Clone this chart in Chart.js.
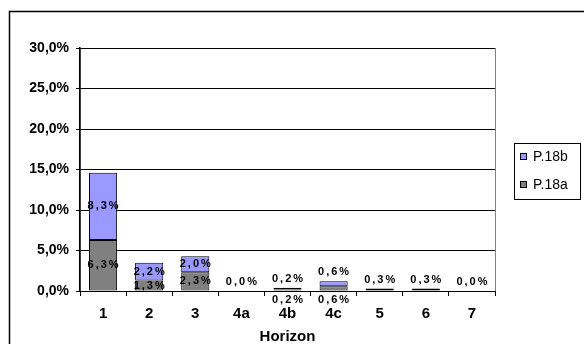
<!DOCTYPE html>
<html>
<head>
<meta charset="utf-8">
<script src="https://cdn.jsdelivr.net/npm/chart.js@4"></script>
<style>
    html, body { margin: 0; padding: 0; background: #fff; overflow: hidden; }
    #wrap { position: relative; width: 584px; height: 344px; }
</style>
</head>
<body>
<div id="wrap"><canvas id="chart" width="584" height="344"></canvas></div>
<script>
// horizons on the x axis
const horizons = ["1", "2", "3", "4a", "4b", "4c", "5", "6", "7"];
// share in percent, null where Excel shows nothing
const p18a = [6.3, 1.3, 2.3, null, 0.2, 0.6, 0.3, null, null];
const p18b = [8.3, 2.2, 2.0, 0.0, 0.2, 0.6, null, 0.3, 0.0];
const yTicks = [0, 5, 10, 15, 20, 25, 30];

const fmt = (v) => v.toFixed(1).replace(".", ",") + "%";

// outer frame + plot border + legend, Excel style
const framePlugin = {
    id: "frame",
    beforeDraw(chart) {
        const ctx = chart.ctx;
        const a = chart.chartArea;
        ctx.save();
        ctx.strokeStyle = "#000";
        ctx.lineWidth = 1.5;
        ctx.strokeRect(9.5, 11.5, 600, 400);
        ctx.strokeStyle = "#808080";
        ctx.lineWidth = 1;
        ctx.strokeRect(a.left + 0.5, a.top + 0.5, a.right - a.left, a.bottom - a.top);
        ctx.restore();
    },
    afterDraw(chart) {
        const ctx = chart.ctx;
        ctx.save();
        ctx.strokeStyle = "#000";
        ctx.lineWidth = 1;
        ctx.strokeRect(514.5, 143.5, 66, 56);
        // legend is reversed like Excel's stacked legend
        const order = [1, 0];
        order.forEach((di, k) => {
            const ds = chart.data.datasets[di];
            const cy = 157 + k * 28;
            ctx.fillStyle = ds.backgroundColor;
            ctx.fillRect(520.5, cy - 3.5, 6, 6);
            ctx.strokeStyle = "#000";
            ctx.strokeRect(520.5, cy - 3.5, 6, 6);
            ctx.fillStyle = "#000";
            ctx.font = "14px Arial, 'Liberation Sans'";
            ctx.textBaseline = "middle";
            ctx.textAlign = "left";
            ctx.fillText(ds.label, 533, cy);
        });
        ctx.restore();
    },
};

// value labels, centred in segment, or moved outside when the segment is thin
const labelPlugin = {
    id: "valueLabels",
    afterDatasetsDraw(chart) {
        const ctx = chart.ctx;
        const sets = chart.data.datasets;
        ctx.save();
        ctx.font = "bold 11px Arial, 'Liberation Sans'";
        ctx.letterSpacing = "2px";
        ctx.fillStyle = "#000";
        ctx.textAlign = "center";
        ctx.textBaseline = "middle";
        horizons.forEach((h, j) => {
            let top = Infinity;
            sets.forEach((ds, i) => {
                if (ds.data[j] === null) return;
                const el = chart.getDatasetMeta(i).data[j];
                top = Math.min(top, el.y, el.base);
            });
            sets.forEach((ds, i) => {
                const v = ds.data[j];
                if (v === null) return;
                const el = chart.getDatasetMeta(i).data[j];
                const hgt = Math.abs(el.base - el.y);
                let y;
                if (hgt >= 8) {
                    y = (el.y + el.base) / 2;
                } else if (i === 1 || sets[1].data[j] === null) {
                    y = top - 9;
                } else {
                    y = el.base + 9;
                }
                ctx.fillText(fmt(v), el.x + 1, y);
            });
        });
        ctx.restore();
    },
};

new Chart(document.getElementById("chart"), {
    type: "bar",
    data: {
        labels: horizons,
        datasets: [
            {
                label: "P.18a",
                data: p18a,
                backgroundColor: "#808080",
                borderColor: "#000",
                borderWidth: 1,
                borderSkipped: false,
            },
            {
                label: "P.18b",
                data: p18b,
                backgroundColor: "#9999FF",
                borderColor: "#000",
                borderWidth: 1,
                borderSkipped: false,
            },
        ],
    },
    options: {
        responsive: false,
        animation: false,
        categoryPercentage: 1,
        barPercentage: 0.61,
        layout: { padding: { top: 48, right: 89, left: 0, bottom: 0 } },
        plugins: {
            legend: { display: false },
            tooltip: { enabled: false },
        },
        scales: {
            x: {
                stacked: true,
                afterFit(axis) { axis.height = 53; },
                grid: {
                    offset: true,
                    drawOnChartArea: false,
                    drawTicks: true,
                    tickLength: 5,
                    color: "#000",
                },
                border: { color: "#000", width: 1 },
                ticks: {
                    color: "#000",
                    padding: 9,
                    font: { family: "Arial, 'Liberation Sans'", size: 15, weight: "bold" },
                },
                title: {
                    display: true,
                    text: "Horizon",
                    color: "#000",
                    padding: { top: 0, bottom: 0 },
                    font: { family: "Arial, 'Liberation Sans'", size: 15, weight: "bold", lineHeight: 1 },
                },
            },
            y: {
                stacked: true,
                min: yTicks[0],
                max: yTicks[yTicks.length - 1],
                afterFit(axis) { axis.width = 80; },
                afterBuildTicks(axis) { axis.ticks = yTicks.map((v) => ({ value: v })); },
                grid: {
                    color: "#000",
                    lineWidth: 1,
                    drawTicks: true,
                    tickLength: 4,
                },
                border: { color: "#000", width: 1.5 },
                ticks: {
                    color: "#000",
                    padding: 7,
                    callback: (v) => fmt(v),
                    font: { family: "Arial, 'Liberation Sans'", size: 14, weight: "bold" },
                },
            },
        },
    },
    plugins: [framePlugin, labelPlugin],
});
</script>
</body>
</html>
